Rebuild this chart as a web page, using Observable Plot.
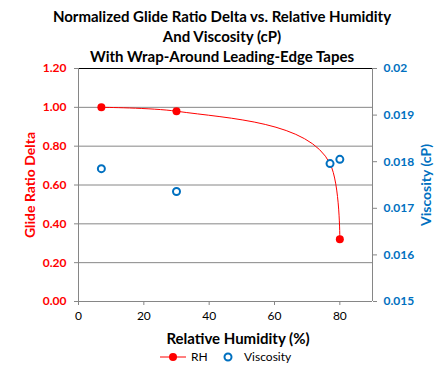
<!DOCTYPE html>
<html><head><meta charset="utf-8">
<script src="https://cdn.jsdelivr.net/npm/d3@7"></script>
<script src="https://cdn.jsdelivr.net/npm/@observablehq/plot@0.6"></script>
<style>
body{margin:0;background:#fff;font-family:Lato,"Open Sans",sans-serif;width:444px;height:372px;overflow:hidden}
#title{height:62px;text-align:center;font-weight:bold;font-size:15px;line-height:20px;padding-top:6px;box-sizing:border-box;color:#000}
#legend{position:absolute;top:349px;left:0;width:444px;font-size:12px;}
svg text{font-family:Lato,"Open Sans",sans-serif}
</style></head><body>
<div id="title">Normalized Glide Ratio Delta vs. Relative Humidity<br>And Viscosity (cP)<br>With Wrap-Around Leading-Edge Tapes</div>
<div id="chart"></div>
<div id="legend"></div>
<script>
const rhX = [7, 30, 77, 80];
const rhY = [1.00, 0.98, 0.71, 0.32];
const visX = [7, 30, 77, 80];
const visY = [0.01785, 0.01736, 0.01796, 0.01805];
const leftTicks = [0, 0.2, 0.4, 0.6, 0.8, 1.0, 1.2];
const rightTicks = [0.015, 0.016, 0.017, 0.018, 0.019, 0.02];
const rightLabels = ["0.015", "0.016", "0.017", "0.018", "0.019", "0.02"];
const xTicks = [0, 20, 40, 60, 80];

const RED = "#ff0000", BLUE = "#0070c0", GRAY = "#868686";
const visToY = v => (v - 0.015) / 0.005 * 1.2;
const rh = rhX.map((x, i) => ({x, y: rhY[i]}));
const rhMarked = rh.filter(d => d.x !== 77);
const vis = visX.map((x, i) => ({x, y: visToY(visY[i])}));
const rightMap = new Map(rightTicks.map((t, i) => [visToY(t).toFixed(6), rightLabels[i]]));

const plot = Plot.plot({
  width: 444, height: 288,
  marginLeft: 78, marginRight: 72, marginTop: 6, marginBottom: 49,
  x: {domain: [0, 90]},
  y: {domain: [0, 1.2]},
  style: {fontSize: "12px", fontFamily: "Lato, 'Open Sans', sans-serif", overflow: "visible"},
  marks: [
    Plot.ruleY(leftTicks.filter(d => d > 0 && d < 1.2), {stroke: GRAY, strokeWidth: 1, strokeOpacity: 1}),
    Plot.ruleY([1.2], {stroke: "#000", strokeWidth: 1}),
    Plot.ruleY([0], {stroke: GRAY}),
    Plot.ruleX([0], {stroke: GRAY}),
    Plot.ruleX([90], {stroke: GRAY}),
    Plot.axisY(leftTicks, {anchor: "left", tickFormat: d3.format(".2f"), tickSize: 4, tickPadding: 8,
      stroke: GRAY, color: RED, fill: RED, fontWeight: "bold", fontSize: 12,
      label: "Glide Ratio Delta", labelAnchor: "center", labelArrow: "none", labelOffset: 53}),
    Plot.axisY(rightTicks.map(visToY), {anchor: "right", tickFormat: d => rightMap.get(d.toFixed(6)), tickSize: 4, tickPadding: 7,
      stroke: GRAY, fill: BLUE, fontWeight: "bold", fontSize: 12,
      label: "Viscosity (cP)", labelAnchor: "center", labelArrow: "none", labelOffset: 58}),
    Plot.axisX(xTicks, {anchor: "bottom", tickSize: 4, tickPadding: 6, stroke: GRAY, fill: "#000", fontSize: 12,
      label: null}),
    Plot.line(rh, {x: "x", y: "y", stroke: RED, strokeWidth: 1, curve: d3.curveCatmullRom.alpha(1)}),
    Plot.dot(rhMarked, {x: "x", y: "y", r: 4, fill: RED, stroke: "none"}),
    Plot.dot(vis, {x: "x", y: "y", r: 3.5, fill: "#fff", stroke: BLUE, strokeWidth: 2})
  ]
});
document.getElementById("chart").appendChild(plot);
// x-axis title as real SVG text
const ns = "http://www.w3.org/2000/svg";
const xl = document.createElementNS(ns, "text");
xl.setAttribute("x", 238); xl.setAttribute("y", 282);
xl.setAttribute("text-anchor", "middle");
xl.setAttribute("font-size", "15"); xl.setAttribute("font-weight", "bold"); xl.setAttribute("fill", "#000");
xl.textContent = "Relative Humidity (%)";
plot.appendChild(xl);
plot.querySelectorAll("g[aria-label='y-axis label'] text").forEach(t => {
  t.style.fontWeight = "bold"; t.style.fontSize = "14px";
});

const legend = document.getElementById("legend");
legend.innerHTML = `<svg width="444" height="20">
  <line x1="160" y1="8" x2="186" y2="8" stroke="${RED}" stroke-width="1"/>
  <circle cx="173" cy="8" r="4" fill="${RED}"/>
  <text x="191" y="12" font-size="12" fill="#000">RH</text>
  <circle cx="228" cy="8" r="3.5" fill="none" stroke="${BLUE}" stroke-width="2"/>
  <text x="244" y="12" font-size="12" fill="#000">Viscosity</text>
</svg>`;
</script>
</body></html>
